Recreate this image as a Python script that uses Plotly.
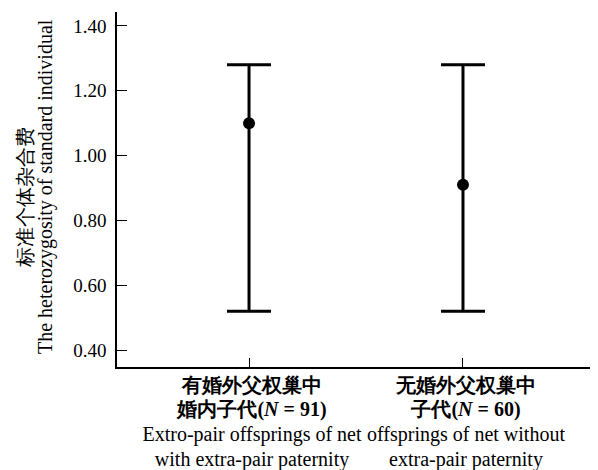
import plotly.graph_objects as go

categories = ["group_with", "group_without"]
cat_cn1 = ["有婚外父权巢中", "无婚外父权巢中"]
cat_cn2 = ["婚内子代(<i>N</i> = 91)", "子代(<i>N</i> = 60)"]
cat_en1 = ["Extro-pair offsprings of net", "offsprings of net without"]
cat_en2 = ["with extra-pair paternity", "extra-pair paternity"]
means = [1.10, 0.91]
upper = [1.28, 1.28]
lower = [0.52, 0.52]
y_ticks = [0.40, 0.60, 0.80, 1.00, 1.20, 1.40]
y_title_cn = "标准个体杂合费"
y_title_en = "The heterozygosity of standard individual"

x_idx = list(range(len(categories)))
err_plus = [u - m for u, m in zip(upper, means)]
err_minus = [m - l for m, l in zip(means, lower)]

ticktext = [
    f"<span style='font-size:20px'><b>{c1}</b></span><br>"
    f"<span style='font-size:20px'><b>{c2}</b></span><br>"
    f"<span style='font-size:20px'>{e1}</span><br>"
    f"<span style='font-size:20px'>{e2}</span>"
    for c1, c2, e1, e2 in zip(cat_cn1, cat_cn2, cat_en1, cat_en2)
]

fig = go.Figure()
fig.add_trace(go.Scatter(
    x=x_idx, y=means, mode="markers",
    marker=dict(color="black", size=12),
    error_y=dict(type="data", symmetric=False, array=err_plus, arrayminus=err_minus,
                 color="black", thickness=3, width=22),
    showlegend=False,
))

font_family = "Liberation Serif"
fig.add_annotation(text=y_title_cn, xref="paper", yref="paper", x=0, y=0.476,
                   xanchor="center", yanchor="middle", xshift=-92, textangle=-90,
                   showarrow=False, font=dict(size=20, family=font_family, color="black"))
fig.add_annotation(text=y_title_en, xref="paper", yref="paper", x=0, y=0.507,
                   xanchor="center", yanchor="middle", xshift=-72, textangle=-90,
                   showarrow=False, font=dict(size=20, family=font_family, color="black"))

fig.update_layout(
    width=590, height=462,
    margin=dict(l=109, r=0, t=4, b=103),
    plot_bgcolor="white", paper_bgcolor="white",
    font=dict(family=font_family, size=19, color="black"),
    xaxis=dict(
        range=[-0.617, 1.631], tickmode="array", tickvals=x_idx, ticktext=ticktext,
        tickangle=0, automargin=False, ticklabelshift=3,
        showline=True, linecolor="black", linewidth=1.5, ticks="inside", ticklen=9,
        tickcolor="black", showgrid=False, zeroline=False,
        tickfont=dict(size=19, family=font_family, color="black"),
    ),
    yaxis=dict(
        range=[0.348, 1.443], tickmode="array", tickvals=y_ticks,
        ticktext=[f"{v:.2f}" for v in y_ticks], automargin=False,
        ticklabelstandoff=5,
        showline=True, linecolor="black", linewidth=1.5, ticks="inside", ticklen=10,
        tickcolor="black", showgrid=False, zeroline=False,
        tickfont=dict(size=19, family=font_family, color="black"),
    ),
)

fig.write_html("out.html")
